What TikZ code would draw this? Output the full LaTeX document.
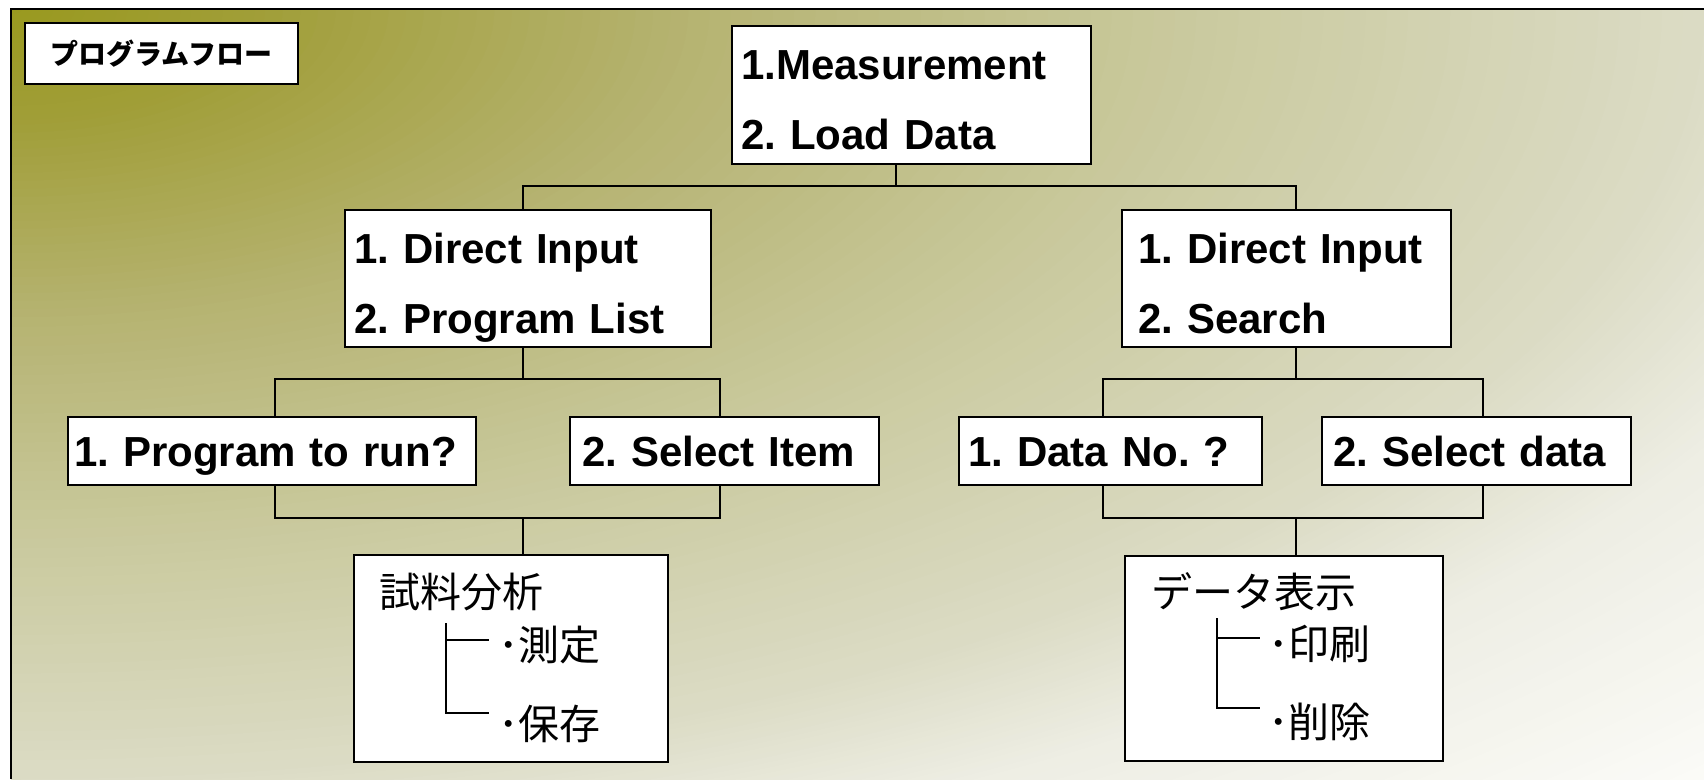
\documentclass[tikz,border=0pt]{standalone}
\usepackage{fontspec}
\setmainfont{Liberation Sans}
\newfontfamily\jp{Noto Sans CJK JP}
\definecolor{bgA}{rgb}{0.60,0.60,0.12}
\definecolor{bgB}{rgb}{0.63,0.62,0.22}
\definecolor{bgC}{rgb}{0.71,0.70,0.44}
\definecolor{bgD}{rgb}{0.79,0.79,0.62}
\definecolor{bgE}{rgb}{0.86,0.86,0.77}
\definecolor{bgF}{rgb}{0.93,0.93,0.89}
\definecolor{bgG}{rgb}{0.99,0.99,0.98}
% one band of the background gradient: ellipses from radius #2 down to #1,
% colour going from #4 (at #2) to #3 (at #1)
\newcommand\bgseg[4]{%
  \foreach \k in {0,...,23}{%
    \pgfmathsetmacro{\nn}{#2-(#2-#1)*\k/24}%
    \pgfmathsetmacro{\pp}{100*\k/24}%
    \fill[#3!\pp!#4] (11,9) ellipse [x radius={\nn*1693pt}, y radius={\nn*770pt}];
  }}
\frenchspacing
\begin{document}
\begin{tikzpicture}[x=1pt,y=-1pt,
  box/.style={draw=black, line width=2pt, fill=white, inner sep=0pt, anchor=north west},
  conn/.style={draw=black, line width=2pt},
  treeline/.style={draw=black, line width=1.6pt},
  en/.style={font=\fontsize{42}{70}\selectfont\bfseries, align=left},
  two/.style={minimum height=137pt, text height=53pt, text depth=84pt},
  one/.style={minimum height=68pt, text height=49pt, text depth=19pt},
  jt/.style={font=\jp\fontsize{41}{41}\selectfont, inner sep=0pt, anchor=west}]
\useasboundingbox (0,0) rectangle (1704,779);
% background panel
\begin{scope}
  \clip (11,9) rectangle (1704,779);
  \fill[bgG] (11,9) rectangle (1704,779);
  \bgseg{1.15}{1.45}{bgF}{bgG}
  \bgseg{1.0}{1.15}{bgE}{bgF}
  \bgseg{0.7}{1.0}{bgD}{bgE}
  \bgseg{0.4}{0.7}{bgC}{bgD}
  \bgseg{0.15}{0.4}{bgB}{bgC}
  \bgseg{0.0}{0.15}{bgA}{bgB}
\end{scope}
\draw[line width=2.5pt] (11,779) -- (11,9) -- (1704,9);

% title
\node[box, minimum width=273pt, minimum height=61pt,
      font=\jp\bfseries\fontsize{28}{28}\selectfont] (title) at (24,22) {プログラムフロー};

% level 1
\node[box, en, minimum width=359pt, minimum height=138pt, inner xsep=9pt,
      text width=341pt, text height=53pt, text depth=85pt] (top) at (731,25)
      {1.Measurement\\2. Load Data};

% level 2
\node[box, en, two, minimum width=366pt, inner xsep=9pt, text width=348pt] (l2a) at (344,209)
      {1. Direct Input\\2. Program List};
\node[box, en, two, minimum width=329pt, inner xsep=16pt, text width=297pt] (l2b) at (1121,209)
      {1. Direct Input\\2. Search};

% level 3
\node[box, en, one, minimum width=408pt, inner xsep=6pt, text width=396pt] (l3a) at (67,416)
      {1. Program to run?};
\node[box, en, one, minimum width=309pt, inner xsep=12pt, text width=285pt] (l3b) at (569,416)
      {2. Select Item};
\node[box, en, one, minimum width=303pt, inner xsep=9pt, text width=285pt] (l3c) at (958,416)
      {1. Data No. ?};
\node[box, en, one, minimum width=309pt, inner xsep=11pt, text width=287pt] (l3d) at (1321,416)
      {2. Select data};

% level 4
\node[box, minimum width=314pt, minimum height=207pt] (jpa) at (353,554) {};
\node[jt] (jpa1) at (379,592) {試料分析};
\node[jt] (jpa2) at (498,645) {･測定};
\node[jt] (jpa3) at (498,724) {･保存};
\draw[treeline] (446,623) -- (446,713) -- (489,713);
\draw[treeline] (446,640) -- (489,640);

\node[box, minimum width=318pt, minimum height=205pt] (jpb) at (1124,555) {};
\node[jt] (jpb1) at (1151,592) {データ表示};
\node[jt] (jpb2) at (1268,644) {･印刷};
\node[jt] (jpb3) at (1268,722) {･削除};
\draw[treeline] (1217,618) -- (1217,708) -- (1260,708);
\draw[treeline] (1217,638) -- (1260,638);

% connectors
\coordinate (b1) at (0,186);
\coordinate (b2) at (0,379);
\coordinate (b3) at (0,518);
\draw[conn] ([xshift=-15.5pt]top.south) -- ([xshift=-15.5pt]top.south |- b1);
\draw[conn] ([xshift=-5pt]l2a.north) |- ([xshift=9.5pt]l2b.north |- b1) -- ([xshift=9.5pt]l2b.north);

\draw[conn] ([xshift=-5pt]l2a.south) -- ([xshift=-5pt]l2a.south |- b2);
\draw[conn] ([xshift=3pt]l3a.north) |- ([xshift=-4.5pt]l3b.north |- b2) -- ([xshift=-4.5pt]l3b.north);
\draw[conn] ([xshift=3pt]l3a.south) |- ([xshift=-4.5pt]l3b.south |- b3) -- ([xshift=-4.5pt]l3b.south);
\draw[conn] ([xshift=12pt]jpa.north) -- ([xshift=12pt]jpa.north |- b3);

\draw[conn] ([xshift=9.5pt]l2b.south) -- ([xshift=9.5pt]l2b.south |- b2);
\draw[conn] ([xshift=-7.5pt]l3c.north) |- ([xshift=6.5pt]l3d.north |- b2) -- ([xshift=6.5pt]l3d.north);
\draw[conn] ([xshift=-7.5pt]l3c.south) |- ([xshift=6.5pt]l3d.south |- b3) -- ([xshift=6.5pt]l3d.south);
\draw[conn] ([xshift=12pt]jpb.north) -- ([xshift=12pt]jpb.north |- b3);
\end{tikzpicture}
\end{document}
